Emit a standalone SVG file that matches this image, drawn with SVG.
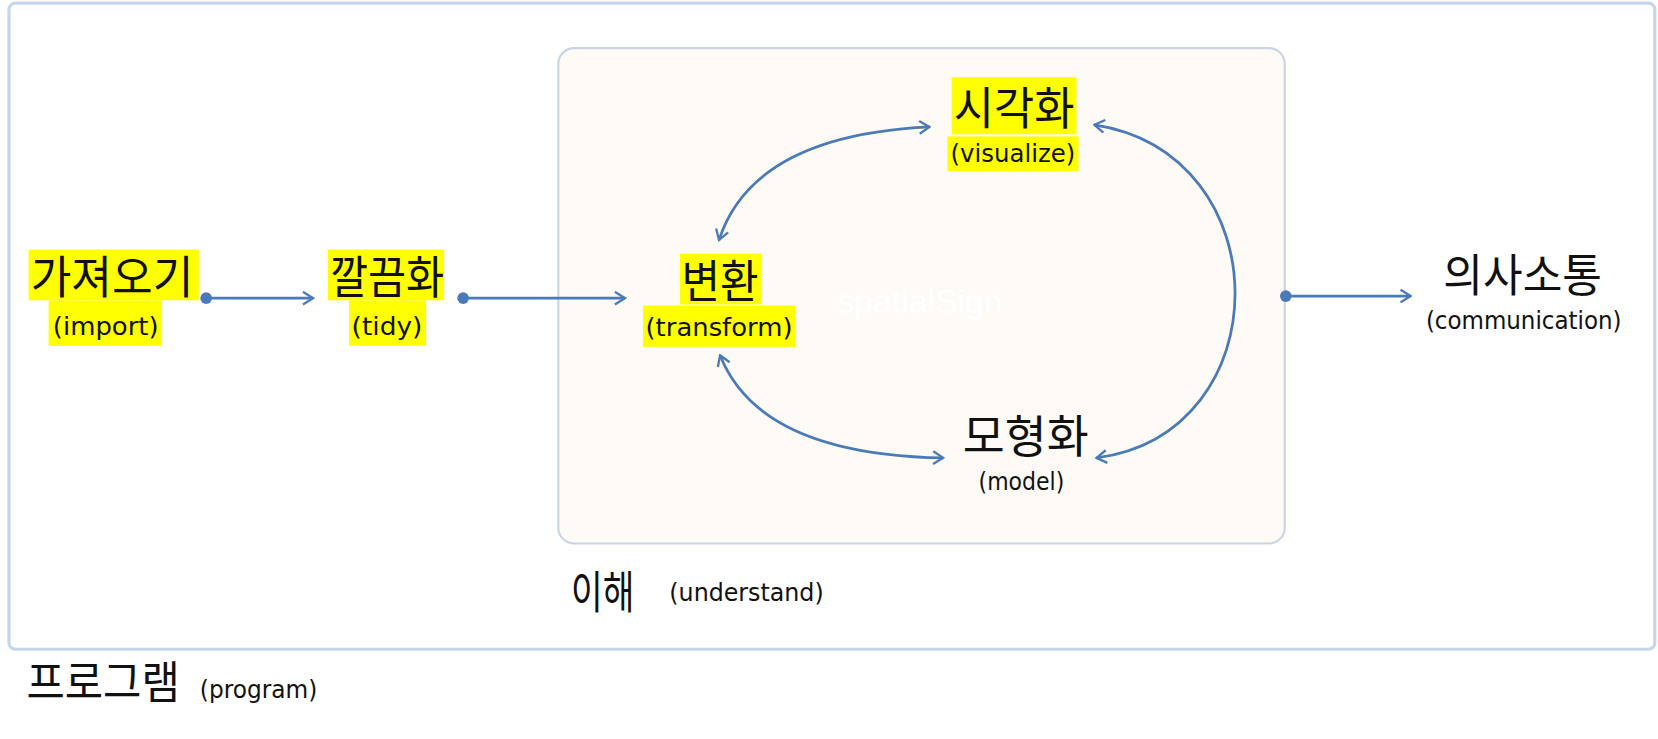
<svg xmlns="http://www.w3.org/2000/svg" width="1658" height="739" viewBox="0 0 1658 739">
<style>
.ko{font-family:"Noto Sans CJK KR","Noto Sans",sans-serif;fill:#111;text-anchor:middle;font-size:43px}
.en{font-family:"DejaVu Sans","Noto Sans",sans-serif;fill:#111;text-anchor:middle;font-size:23px}
.st{text-anchor:start}
.hl{fill:#ffff00}
.con{fill:none;stroke:#4a7ab8;stroke-width:2.6}
.dot{fill:#4a7ab8}
</style>
<defs>
<marker id="ah" viewBox="0 0 12 14" refX="10.5" refY="7" markerWidth="12" markerHeight="14" markerUnits="userSpaceOnUse" orient="auto-start-reverse">
<path d="M1,1 L10.5,7 L1,13" fill="none" stroke="#4a7ab8" stroke-width="2.2"/>
</marker>
</defs>
<rect width="1658" height="739" fill="#ffffff"/>
<g transform="scale(1.0574)">
<rect id="program-frame" x="8.5" y="3" width="1556.5" height="611" rx="6" fill="#ffffff" stroke="#c6d5ea" stroke-width="3"/>
<rect id="understand-frame" x="528" y="45.5" width="687" height="468.5" rx="15" fill="#fefaf6" stroke="#c9d5e5" stroke-width="2"/>
<text x="870" y="296" font-family="Liberation Sans, sans-serif" font-size="32" fill="#ffffff" text-anchor="middle">spatialSign</text>

<g id="connectors">
<circle class="dot" cx="195" cy="282" r="5.5"/>
<path class="con" d="M195,282 L296,282" marker-end="url(#ah)"/>
<circle class="dot" cx="438" cy="282" r="5.5"/>
<path class="con" d="M438,282 L591,282" marker-end="url(#ah)"/>
<circle class="dot" cx="1216" cy="280" r="5.5"/>
<path class="con" d="M1216,280 L1334,280" marker-end="url(#ah)"/>
<path class="con" d="M680,227 Q712,128 879,120" marker-start="url(#ah)" marker-end="url(#ah)"/>
<path class="con" d="M681,336 Q718,430 892,433" marker-start="url(#ah)" marker-end="url(#ah)"/>
<path class="con" d="M1035,118 C1212,145 1212,410 1037,433" marker-start="url(#ah)" marker-end="url(#ah)"/>
</g>

<g id="import">
<rect class="hl" x="27" y="236" width="161" height="48"/>
<rect class="hl" x="46" y="284" width="107" height="43"/>
<text class="ko" x="106" y="278" textLength="154" lengthAdjust="spacingAndGlyphs">가져오기</text>
<text class="en" x="100" y="317" textLength="100" lengthAdjust="spacingAndGlyphs">(import)</text>
</g>
<g id="tidy">
<rect class="hl" x="310" y="236" width="110" height="48"/>
<rect class="hl" x="330" y="284" width="73" height="43"/>
<text class="ko" x="366" y="278" textLength="108" lengthAdjust="spacingAndGlyphs">깔끔화</text>
<text class="en" x="366" y="317" textLength="67" lengthAdjust="spacingAndGlyphs">(tidy)</text>
</g>
<g id="transform">
<rect class="hl" x="643" y="240" width="77" height="48"/>
<rect class="hl" x="608" y="289" width="144" height="39"/>
<text class="ko" x="681" y="282" textLength="73" lengthAdjust="spacingAndGlyphs">변환</text>
<text class="en" x="680" y="318" textLength="139" lengthAdjust="spacingAndGlyphs">(transform)</text>
</g>
<g id="visualize">
<rect class="hl" x="900" y="73" width="118" height="54"/>
<rect class="hl" x="896" y="129" width="124" height="33"/>
<text class="ko" x="959" y="118" textLength="114" lengthAdjust="spacingAndGlyphs">시각화</text>
<text class="en" x="958" y="153" textLength="118" lengthAdjust="spacingAndGlyphs">(visualize)</text>
</g>
<g id="model">
<text class="ko" x="970" y="428" textLength="119" lengthAdjust="spacingAndGlyphs">모형화</text>
<text class="en" x="966" y="463" textLength="81" lengthAdjust="spacingAndGlyphs">(model)</text>
</g>
<g id="communication">
<text class="ko" x="1440" y="276" font-size="42" textLength="150" lengthAdjust="spacingAndGlyphs">의사소통</text>
<text class="en" x="1441" y="311" font-size="22" textLength="185" lengthAdjust="spacingAndGlyphs">(communication)</text>
</g>
<g id="understand">
<text class="ko st" x="540" y="576" font-size="40" textLength="60" lengthAdjust="spacingAndGlyphs">이해</text>
<text class="en st" x="633" y="568" textLength="146" lengthAdjust="spacingAndGlyphs">(understand)</text>
</g>
<g id="program">
<text class="ko st" x="25" y="661" font-size="38" textLength="145" lengthAdjust="spacingAndGlyphs">프로그램</text>
<text class="en st" x="189" y="660" textLength="111" lengthAdjust="spacingAndGlyphs">(program)</text>
</g>
</g>
</svg>
